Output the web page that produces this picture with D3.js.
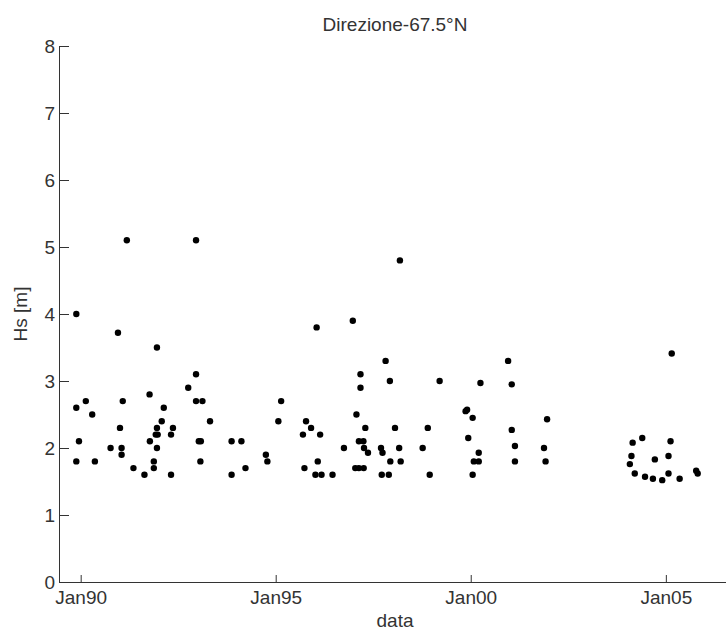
<!DOCTYPE html>
<html>
<head>
<meta charset="utf-8">
<script src="https://cdn.jsdelivr.net/npm/d3@7"></script>
<style>
  body { margin: 0; background: #fff; }
  text { font-family: "Liberation Sans", Arial, sans-serif; fill: #333; }
  .axis path, .axis line { stroke: #333; stroke-width: 1; }
</style>
</head>
<body>
<div id="chart"></div>
<script>

// Sample dates (storm events) and significant wave height Hs [m]
var dates = [
    "1989-11-21", "1989-11-21", "1989-11-21", "1989-12-16", "1990-02-18", "1990-04-19", "1990-05-14",
    "1990-10-08", "1990-12-16", "1991-01-04", "1991-01-19", "1991-01-19", "1991-01-30", "1991-03-09",
    "1991-05-10", "1991-08-21", "1991-10-08", "1991-10-11", "1991-11-17", "1991-11-17", "1991-12-16",
    "1991-12-16", "1991-12-05", "1991-12-23", "1991-12-16", "1992-01-30", "1992-02-18", "1992-04-26",
    "1992-04-26", "1992-05-14", "1992-10-04", "1992-12-16", "1992-12-16", "1992-12-16", "1993-02-14",
    "1993-01-11", "1993-01-30", "1993-01-26", "1993-04-26", "1993-11-14", "1993-11-14", "1994-02-14",
    "1994-03-24", "1994-10-01", "1994-10-15", "1995-01-26", "1995-02-21", "1995-09-13", "1995-09-27",
    "1995-10-12", "1995-11-28", "1996-01-19", "1996-01-08", "1996-01-30", "1996-02-21", "1996-03-05",
    "1996-06-16", "1996-10-01", "1996-12-23", "1997-01-15", "1997-01-26", "1997-02-18", "1997-02-18",
    "1997-03-05", "1997-03-05", "1997-04-01", "1997-04-04", "1997-04-07", "1997-04-19", "1997-05-14",
    "1997-09-13", "1997-09-20", "1997-09-27", "1997-10-26", "1997-11-25", "1997-12-05", "1997-12-09",
    "1998-01-22", "1998-03-02", "1998-03-09", "1998-03-16", "1998-10-08", "1998-11-25", "1998-12-13",
    "1999-03-16", "1999-11-14", "1999-11-28", "1999-12-09", "2000-01-19", "2000-01-19", "2000-01-30",
    "2000-03-16", "2000-03-16", "2000-04-01", "2000-12-16", "2001-01-19", "2001-01-19", "2001-02-18",
    "2001-02-18", "2001-11-17", "2001-12-02", "2001-12-16", "2004-01-30", "2004-02-14", "2004-02-25",
    "2004-03-16", "2004-05-25", "2004-06-20", "2004-09-02", "2004-09-20", "2004-11-28", "2005-01-26",
    "2005-01-26", "2005-02-14", "2005-02-25", "2005-05-10", "2005-10-12", "2005-10-26"
];
var hs = [
    4.0, 2.6, 1.8, 2.1, 2.7, 2.5, 1.8,
    2.0, 3.72, 2.3, 2.0, 1.9, 2.7, 5.1,
    1.7, 1.6, 2.8, 2.1, 1.8, 1.7, 3.5,
    2.3, 2.2, 2.2, 2.0, 2.4, 2.6, 2.2,
    1.6, 2.3, 2.9, 5.1, 3.1, 2.7, 2.7,
    2.1, 2.1, 1.8, 2.4, 2.1, 1.6, 2.1,
    1.7, 1.9, 1.8, 2.4, 2.7, 2.2, 1.7,
    2.4, 2.3, 3.8, 1.6, 1.8, 2.2, 1.6,
    1.6, 2.0, 3.9, 1.7, 2.5, 1.7, 2.1,
    3.1, 2.9, 2.1, 1.7, 2.0, 2.3, 1.93,
    2.0, 1.6, 1.93, 3.3, 1.6, 3.0, 1.8,
    2.3, 2.0, 4.8, 1.8, 2.0, 2.3, 1.6,
    3.0, 2.55, 2.57, 2.15, 2.45, 1.6, 1.8,
    1.8, 1.93, 2.97, 3.3, 2.95, 2.27, 2.03,
    1.8, 2.0, 1.8, 2.43, 1.76, 1.88, 2.08,
    1.62, 2.15, 1.57, 1.54, 1.83, 1.52, 1.88,
    1.62, 2.1, 3.41, 1.54, 1.66, 1.62
];
var xTickDates = ["1990-01-01", "1995-01-01", "2000-01-01", "2005-01-01"];
var yTicks = [0, 1, 2, 3, 4, 5, 6, 7, 8];
var xDomain = ["1989-06-12", "2006-09-03"];
var titleText = "Direzione-67.5°N";
var xLabel = "data";
var yLabel = "Hs [m]";

var parseDate = d3.timeParse("%Y-%m-%d");

var margin = {top: 46, right: -5, bottom: 51, left: 59};
var width = 726 - margin.left - margin.right;
var height = 633 - margin.top - margin.bottom;

var svg = d3.select("#chart").append("svg")
    .attr("width", 726)
    .attr("height", 633)
    .append("g")
    .attr("transform", "translate(" + margin.left + "," + margin.top + ")");

// Scales
var xScale = d3.scaleTime()
    .domain(xDomain.map(parseDate))
    .range([0, width]);
var yScale = d3.scaleLinear()
    .domain([0, 8])
    .range([height, 0]);

// Axes (MATLAB style: ticks pointing inward)
var xAxis = d3.axisBottom(xScale)
    .tickValues(xTickDates.map(parseDate))
    .tickFormat(d3.timeFormat("%b%y"))
    .tickSizeInner(-7)
    .tickSizeOuter(0)
    .tickPadding(9);
var yAxis = d3.axisLeft(yScale)
    .tickValues(yTicks)
    .tickSizeInner(-10)
    .tickSizeOuter(0)
    .tickPadding(4);

svg.append("g")
    .attr("class", "x-axis axis")
    .attr("transform", "translate(0," + height + ")")
    .call(xAxis);
svg.append("g")
    .attr("class", "y-axis axis")
    .call(yAxis);

svg.selectAll(".axis text")
    .style("font-size", "19px")
    .style("font-family", "'Liberation Sans', Arial, sans-serif")
    .attr("fill", "#333");

// Points
var points = dates.map(function(d, i) { return {date: parseDate(d), value: hs[i]}; });
svg.selectAll(".dot")
    .data(points)
    .enter()
    .append("circle")
    .attr("class", "dot")
    .attr("cx", d => xScale(d.date))
    .attr("cy", d => yScale(d.value))
    .attr("r", 3.2)
    .style("fill", "#000");

// Title and labels
svg.append("text")
    .attr("x", 336)
    .attr("y", -15)
    .attr("text-anchor", "middle")
    .style("font-size", "19px")
    .text(titleText);
svg.append("text")
    .attr("x", 336)
    .attr("y", height + 45)
    .attr("text-anchor", "middle")
    .style("font-size", "19px")
    .text(xLabel);
svg.append("text")
    .attr("transform", "translate(" + (-32) + "," + (height / 2) + ") rotate(-90)")
    .attr("text-anchor", "middle")
    .style("font-size", "19px")
    .text(yLabel);

</script>
</body>
</html>
